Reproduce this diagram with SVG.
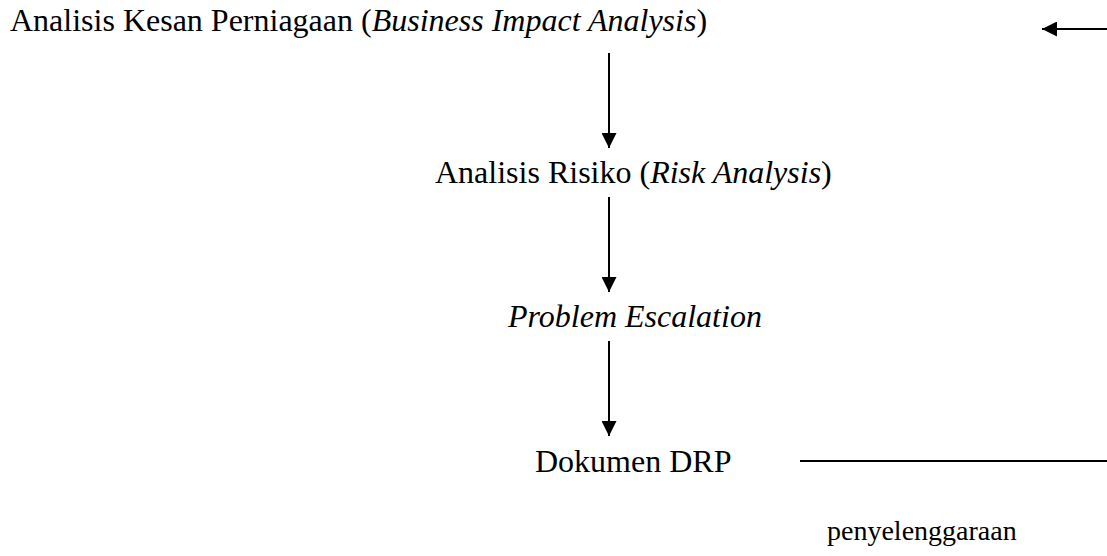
<svg xmlns="http://www.w3.org/2000/svg" width="1107" height="556" viewBox="0 0 1107 556">
<style>
text{font-family:"Liberation Serif","Times New Roman",serif;font-size:32px;fill:#000}
.i{font-style:italic}
.s{font-size:28px}
.ln{stroke:#000;stroke-width:2;fill:none}
</style>
<defs>
<marker id="ah" markerWidth="15" markerHeight="15" refX="15" refY="7.5" orient="auto" markerUnits="userSpaceOnUse">
<path d="M0,0 L15,7.5 L0,15 Z" fill="#000"/>
</marker>
</defs>
<rect width="1107" height="556" fill="#fff"/>
<g id="n1"><text x="10" y="31">Analisis Kesan Perniagaan (<tspan class="i">Business Impact Analysis</tspan>)</text></g>
<g id="n2"><text x="435" y="183">Analisis Risiko (<tspan class="i">Risk Analysis</tspan>)</text></g>
<g id="n3"><text class="i" x="508" y="327">Problem Escalation</text></g>
<g id="n4"><text x="535" y="472">Dokumen DRP</text></g>
<g id="n5"><text class="s" x="827" y="540">penyelenggaraan</text></g>
<g id="connectors">
<line class="ln" x1="609" y1="53" x2="609" y2="148" marker-end="url(#ah)"/>
<line class="ln" x1="609" y1="197" x2="609" y2="292" marker-end="url(#ah)"/>
<line class="ln" x1="609" y1="341" x2="609" y2="436" marker-end="url(#ah)"/>
<line class="ln" x1="800" y1="461" x2="1107" y2="461"/>
<line class="ln" x1="1107" y1="29" x2="1042" y2="29" marker-end="url(#ah)"/>
</g>
</svg>
